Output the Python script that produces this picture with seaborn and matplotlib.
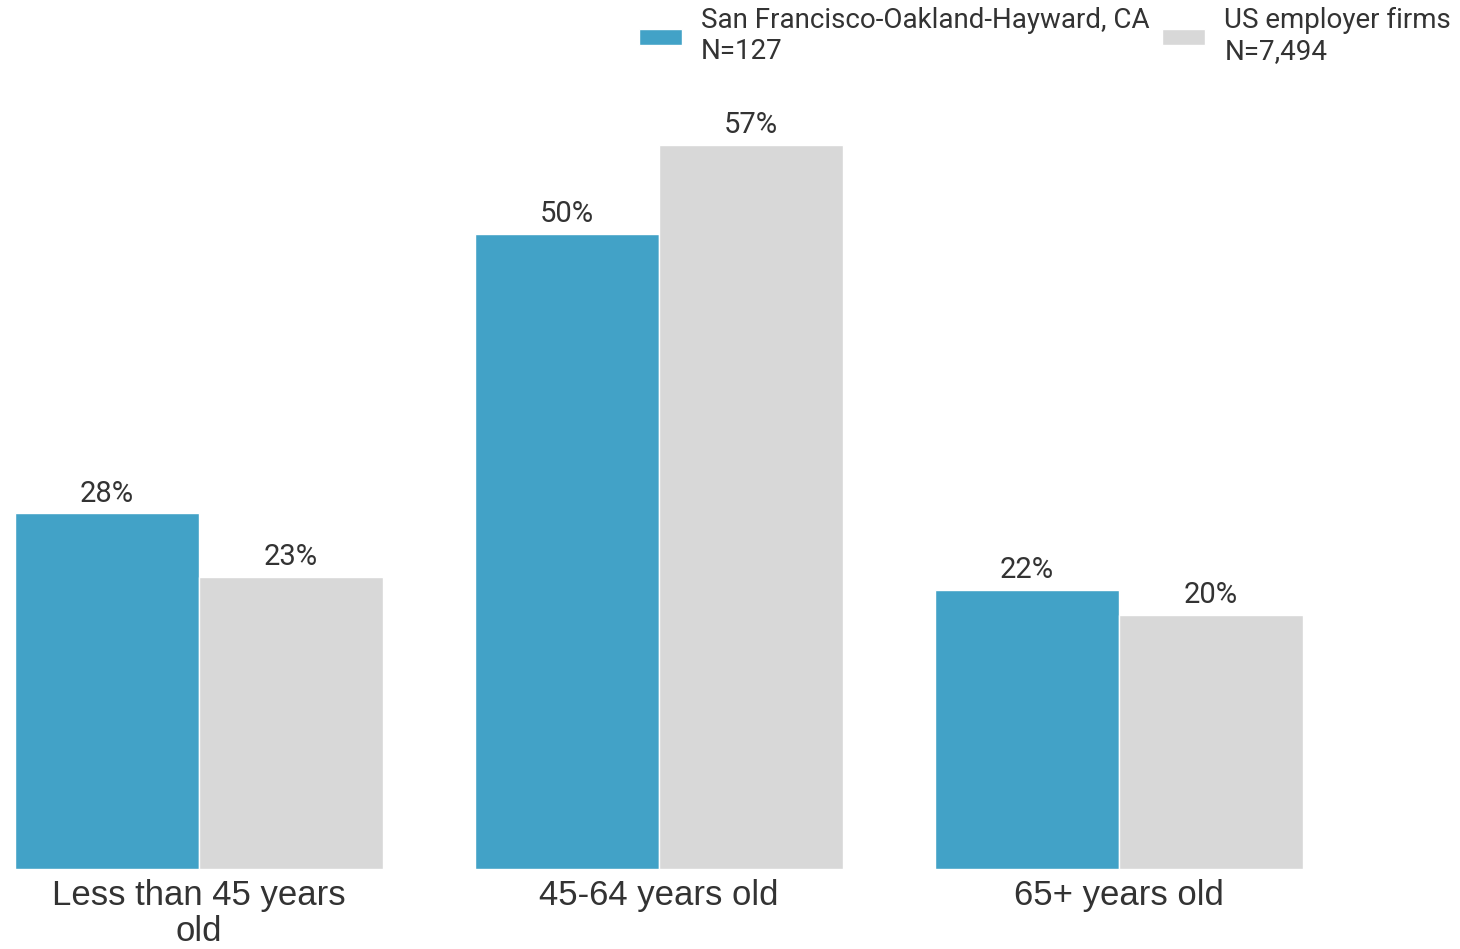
import pandas as pd
import matplotlib.pyplot as plt
import seaborn as sns

categories = ['Less than 45 years\nold', '45-64 years old', '65+ years old']
series_names = ['San Francisco-Oakland-Hayward, CA\nN=127', 'US employer firms\nN=7,494']
sf_values = [28, 50, 22]
us_values = [23, 57, 20]
colors = ['#42a2c7', '#d8d8d8']

df = pd.DataFrame({
    'age': categories * 2,
    'group': [series_names[0]] * 3 + [series_names[1]] * 3,
    'pct': sf_values + us_values,
})

sns.set_style('white')
plt.rcParams['font.family'] = ['Roboto', 'DejaVu Sans']

fig = plt.figure(figsize=(14.6, 9.49), dpi=100)
ax = fig.add_axes([15 / 1460, 0.0843, (1303 - 15) / 1460, 0.803])

sns.barplot(data=df, x='age', y='pct', hue='group', palette=colors, saturation=1,
            width=0.8, edgecolor='white', linewidth=1, ax=ax, legend=True)

# percentage labels above bars
for cont in ax.containers:
    ax.bar_label(cont, fmt='{:.0f}%', padding=4, fontsize=21, color='#333333')

ax.set_xlim(-0.4, 2.4)
ax.set_ylim(0, 60)
ax.set_xlabel('')
ax.set_ylabel('')
ax.set_yticks([])
for s in ax.spines.values():
    s.set_visible(False)
ax.tick_params(axis='x', length=0, pad=7)
for lab in ax.get_xticklabels():
    lab.set_family(['Liberation Sans', 'DejaVu Sans'])
    lab.set_fontsize(25)
    lab.set_color('#333333')
    lab.set_linespacing(1.13)

handles, labels = ax.get_legend_handles_labels()
ax.get_legend().remove()
fig.legend(handles, labels, loc='upper right', bbox_to_anchor=(1.011, 1.019),
           ncol=2, frameon=False, fontsize=20, labelcolor='#333333',
           handlelength=1.55, handleheight=0.5, handletextpad=0.68,
           columnspacing=0.45, labelspacing=0.15)

plt.savefig('out.png', dpi=100)
